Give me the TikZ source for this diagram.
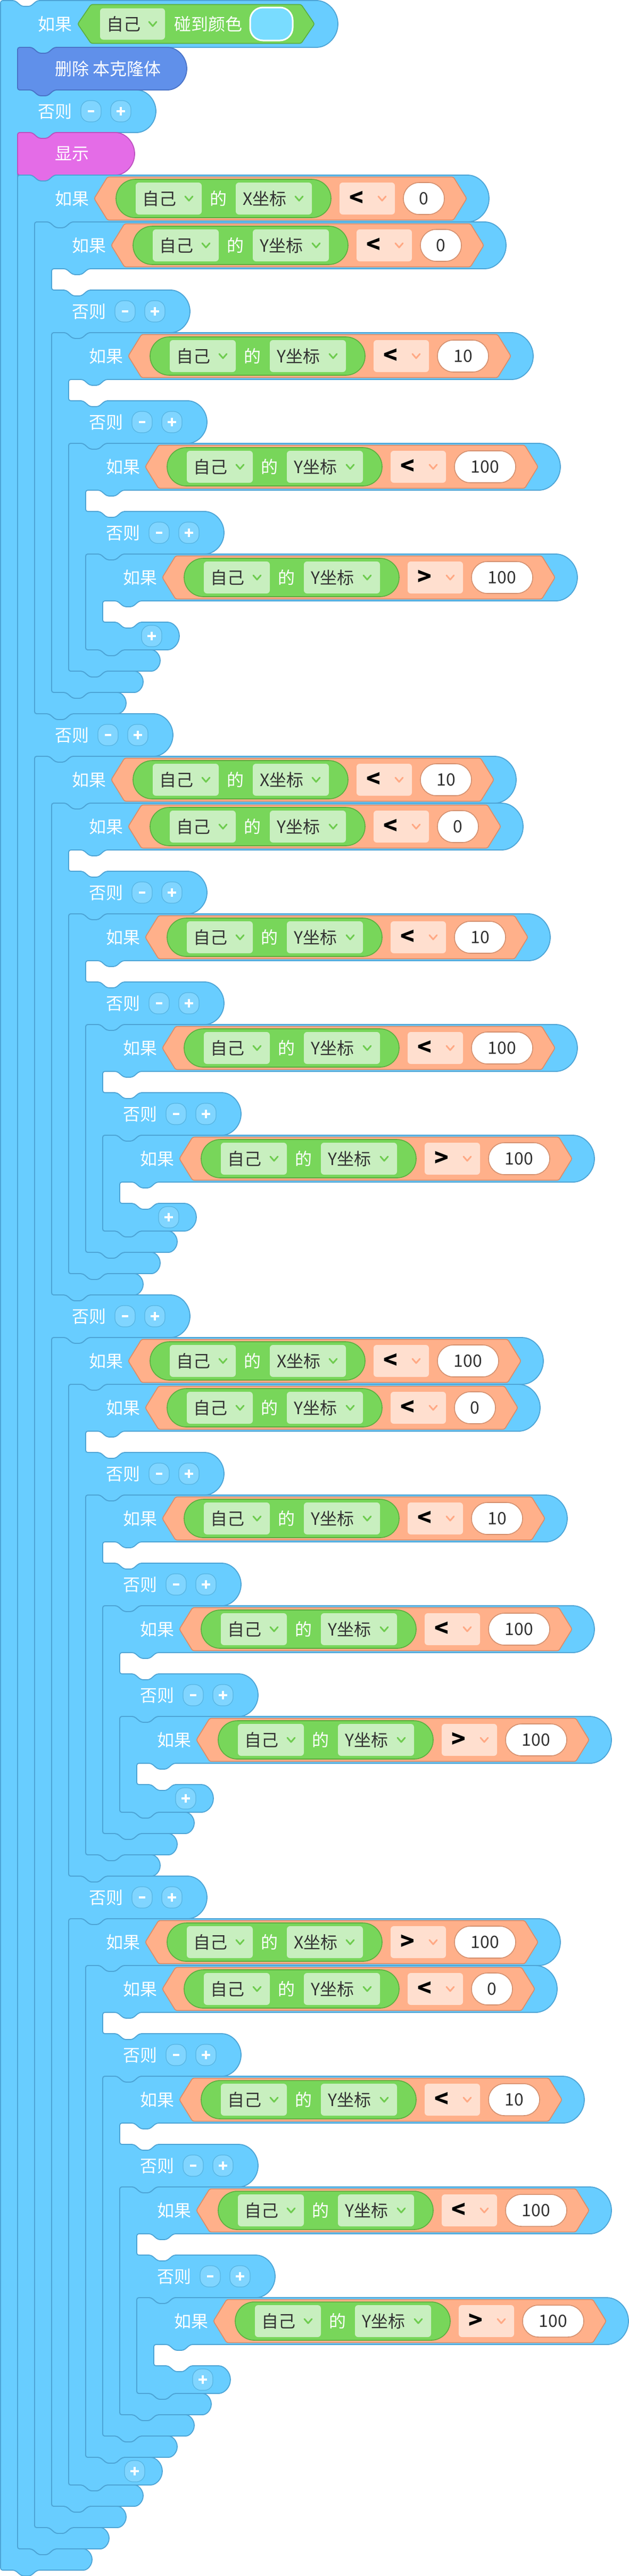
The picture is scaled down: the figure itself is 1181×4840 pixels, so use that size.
\documentclass[tikz,border=0pt]{standalone}
\usepackage{fontspec}
\usepackage{tikz}
\newfontfamily\cjk{Noto Sans CJK SC}

\definecolor{blockblue}{HTML}{68CDFF}
\definecolor{blockedge}{HTML}{4DA4D6}
\definecolor{condfill}{HTML}{FFB08A}
\definecolor{condedge}{HTML}{DC8A66}
\definecolor{pillfill}{HTML}{78D65A}
\definecolor{pilledge}{HTML}{5AAE3E}
\definecolor{ddfill}{HTML}{C8EFBF}
\definecolor{ddarrow}{HTML}{6FCC50}
\definecolor{opfill}{HTML}{FFDFCF}
\definecolor{oparrow}{HTML}{FFA985}
\definecolor{ovaledge}{HTML}{D4906F}
\definecolor{delfill}{HTML}{6090EA}
\definecolor{deledge}{HTML}{4A73C7}
\definecolor{showfill}{HTML}{E46CE7}
\definecolor{showedge}{HTML}{BC52BF}
\definecolor{btnfill}{HTML}{80D5FF}
\definecolor{btnedge}{HTML}{57B4E2}
\definecolor{swatch}{HTML}{79DCFF}
\definecolor{darktext}{HTML}{333333}

\tikzset{
  blockline/.style={draw=blockedge, fill=blockblue, line width=1.8pt, rounded corners=4pt},
  delblock/.style={blockline, draw=deledge, fill=delfill},
  showblock/.style={blockline, draw=showedge, fill=showfill},
  condhex/.style={draw=condedge, fill=condfill, line width=1.6pt, rounded corners=3pt},
  pill/.style={draw=pilledge, fill=pillfill, line width=1.6pt, rounded corners=36pt},
  dropbox/.style={fill=ddfill, rounded corners=6pt},
  opbox/.style={fill=opfill, rounded corners=6pt},
  numoval/.style={draw=ovaledge, fill=white, line width=1.6pt, rounded corners=30pt},
  ddtip/.style={draw=ddarrow, line width=3pt, line cap=round, line join=round},
  optip/.style={ddtip, draw=oparrow},
  lab/.style={font=\cjk\fontsize{32pt}{32pt}\selectfont, inner sep=0pt, text=white},
  darklab/.style={lab, text=darktext},
  oplab/.style={font=\cjk\bfseries\fontsize{44pt}{44pt}\selectfont, inner sep=0pt, text=black},
  btn/.style={draw=btnedge, fill=btnfill, line width=1.2pt, rounded corners=16pt, minimum width=38pt, minimum height=40pt, inner sep=0pt},
  btnsign/.style={draw=white, line width=3.5pt}
}

\newcommand{\notchR}[2]{-- ({#1+27},{#2}) -- ({#1+40},{#2+11}) -- ({#1+56},{#2+11}) -- ({#1+69},{#2})}
\newcommand{\tabL}[2]{-- ({#1+69},{#2}) -- ({#1+56},{#2+11}) -- ({#1+40},{#2+11}) -- ({#1+27},{#2})}

\newcommand{\ifelseshape}[5]{%
  \draw[blockline] (#1,#2) \notchR{#1}{#2}
    -- ({#3-44},#2) arc[start angle=90,end angle=-90,radius=44pt]
    \tabL{#1+32}{#2+88} -- ({#1+32},{#2+88}) -- ({#1+32},{#2+88+#4})
    \notchR{#1+32}{#2+88+#4} -- ({#1+252},{#2+88+#4}) arc[start angle=90,end angle=-90,radius=40pt]
    \tabL{#1+32}{#2+168+#4} -- ({#1+32},{#2+168+#4}) -- ({#1+32},{#2+168+#4+#5})
    \notchR{#1+32}{#2+168+#4+#5} -- ({#1+152},{#2+168+#4+#5}) arc[start angle=90,end angle=-90,radius=20pt]
    \tabL{#1}{#2+208+#4+#5} -- (#1,{#2+208+#4+#5}) -- cycle;}

\newcommand{\ifshape}[4]{%
  \draw[blockline] (#1,#2) \notchR{#1}{#2}
    -- ({#3-44},#2) arc[start angle=90,end angle=-90,radius=44pt]
    \tabL{#1+32}{#2+88} -- ({#1+32},{#2+88}) -- ({#1+32},{#2+88+#4})
    \notchR{#1+32}{#2+88+#4} -- ({#1+150},{#2+88+#4}) arc[start angle=90,end angle=-90,radius=26pt]
    \tabL{#1}{#2+140+#4} -- (#1,{#2+140+#4}) -- cycle;}

\newcommand{\stackshape}[4]{%
  \draw[#4] (#1,#2) \notchR{#1}{#2} -- ({#3-40},#2) arc[start angle=90,end angle=-90,radius=40pt]
    \tabL{#1}{#2+80} -- (#1,{#2+80}) -- cycle;}

\newcommand{\ifhead}[3]{\node[lab, anchor=west] (#1-if) at ({#2+70},{#3+44}) {如果};}

\newcommand{\cond}[7]{%
  \draw[condhex] (#2,#3) -- ({#2+25},{#3-40.5}) -- ({#2+598+#7},{#3-40.5})
    -- ({#2+623+#7},#3) -- ({#2+598+#7},{#3+40.5}) -- ({#2+25},{#3+40.5}) -- cycle;
  \draw[pill] ({#2+41},{#3-36}) rectangle ({#2+445},{#3+36});
  \fill[dropbox] ({#2+78},{#3-30}) rectangle ({#2+202},{#3+30});
  \node[darklab, anchor=west] (#1-own) at ({#2+90},#3) {自己};
  \draw[ddtip] ({#2+171},{#3-4}) -- ({#2+178},{#3+4}) -- ({#2+185},{#3-4});
  \node[lab] (#1-of) at ({#2+233},#3) {的};
  \fill[dropbox] ({#2+266},{#3-30}) rectangle ({#2+409},{#3+30});
  \node[darklab, anchor=west] (#1-axis) at ({#2+279},#3) {#4坐标};
  \draw[ddtip] ({#2+378},{#3-4}) -- ({#2+385},{#3+4}) -- ({#2+392},{#3-4});
  \fill[opbox] ({#2+461},{#3-30}) rectangle ({#2+565},{#3+30});
  \node[oplab] (#1-op) at ({#2+493},#3) {#5};
  \draw[optip] ({#2+534},{#3-4}) -- ({#2+541},{#3+4}) -- ({#2+548},{#3-4});
  \draw[numoval] ({#2+581},{#3-30}) rectangle ({#2+581+#7},{#3+30});
  \node[darklab] (#1-num) at ({#2+581+#7/2},#3) {#6};}

\newcommand{\elserow}[3]{%
  \node[lab, anchor=west] (#1-else) at ({#2+70},{#3+40}) {否则};
  \node[btn] (#1-minus) at ({#2+170},{#3+40}) {};
  \node[btn] (#1-plus) at ({#2+226},{#3+40}) {};
  \draw[btnsign] (#1-minus.center) +(-6,0) -- +(6,0);
  \draw[btnsign] (#1-plus.center) +(-8,0) -- +(8,0) (#1-plus.center) +(0,-8) -- +(0,8);}

\newcommand{\pluscap}[3]{%
  \node[btn] (#1-add) at ({#2+124},{#3+26}) {};
  \draw[btnsign] (#1-add.center) +(-8,0) -- +(8,0) (#1-add.center) +(0,-8) -- +(0,8);}

\newcommand{\ycluster}[3]{%
  \ifelseshape{#2}{#3}{#2+886}{40}{676}
  \ifhead{#1-a}{#2}{#3}
  \cond{#1-a}{#2+144}{#3+44}{Y}{<}{0}{77}
  \elserow{#1-a}{#2}{#3+128}
  \ifelseshape{#2+32}{#3+208}{#2+937}{40}{428}
  \ifhead{#1-b}{#2+32}{#3+208}
  \cond{#1-b}{#2+176}{#3+252}{Y}{<}{10}{96}
  \elserow{#1-b}{#2+32}{#3+336}
  \ifelseshape{#2+64}{#3+416}{#2+988}{40}{180}
  \ifhead{#1-c}{#2+64}{#3+416}
  \cond{#1-c}{#2+208}{#3+460}{Y}{<}{100}{115}
  \elserow{#1-c}{#2+64}{#3+544}
  \ifshape{#2+96}{#3+624}{#2+1020}{40}
  \ifhead{#1-d}{#2+96}{#3+624}
  \cond{#1-d}{#2+240}{#3+668}{Y}{>}{100}{115}
  \pluscap{#1-d}{#2+96}{#3+752}}

\begin{document}
\begin{tikzpicture}[x=1pt,y=-1pt]
  \useasboundingbox (-1,-1) rectangle (1180,4839);
  \ifelseshape{0}{0}{634}{80}{4540}
  \node[lab, anchor=west] (top-if) at (70,44) {如果};
  \draw[pill, rounded corners=3pt] (145,44) -- (170,7.5) -- (565,7.5) -- (590,44) -- (565,80.5) -- (170,80.5) -- cycle;
  \fill[dropbox] (187,14.5) rectangle (309,73.5);
  \node[darklab, anchor=west] (top-own) at (199,44) {自己};
  \draw[ddtip] (279,40) -- (286,48) -- (293,40);
  \node[lab, anchor=west] (top-touch) at (326,44) {碰到颜色};
  \draw[draw=white, fill=swatch, line width=3pt, rounded corners=24pt] (469,13) rectangle (549,75);
  \stackshape{32}{88}{350}{delblock}
  \node[lab, anchor=west] (del) at (102,128) {删除 本克隆体};
  \elserow{top}{0}{168}
  \stackshape{32}{248}{252}{showblock}
  \node[lab, anchor=west] (show) at (102,288) {显示};
  \foreach \n/\lx/\ty/\rx/\mm/\num/\wn in {1/32/328/918/3328/0/77, 2/64/1420/969/2196/10/96, 3/96/2512/1020/1064/100/115}{
    \ifelseshape{\lx}{\ty}{\rx}{924}{\mm}
    \ifhead{x\n}{\lx}{\ty}
    \cond{x\n}{\lx+144}{\ty+44}{X}{<}{\num}{\wn}
    \elserow{x\n}{\lx}{\ty+1012}
  }
  \ifshape{128}{3604}{1052}{924}
  \ifhead{x4}{128}{3604}
  \cond{x4}{272}{3648}{X}{>}{100}{115}
  \pluscap{x4}{128}{4616}
  \foreach \cn/\cx/\cy in {c1/64/416, c2/96/1508, c3/128/2600, c4/160/3692}{
    \ycluster{\cn}{\cx}{\cy}
  }
\end{tikzpicture}
\end{document}
